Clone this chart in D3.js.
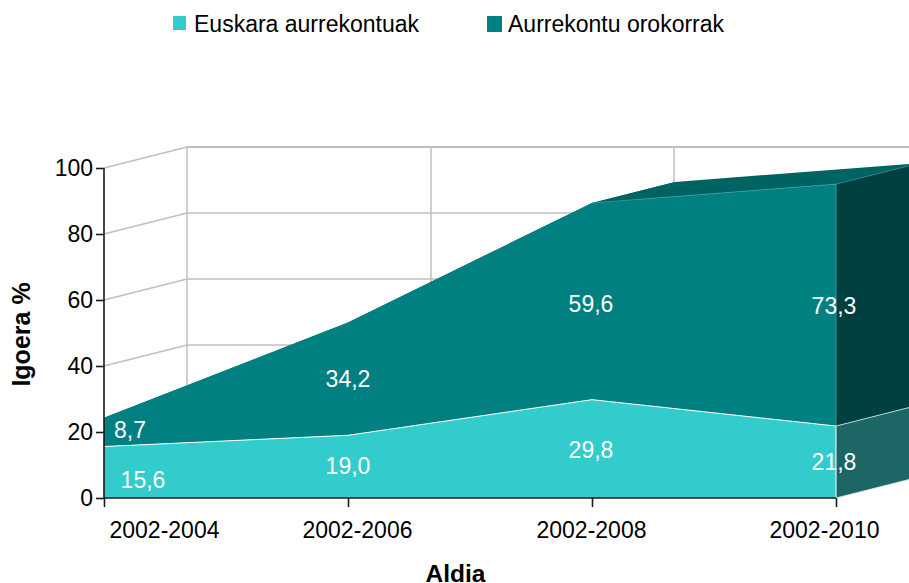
<!DOCTYPE html>
<html><head><meta charset="utf-8">
<script src="https://cdn.jsdelivr.net/npm/d3@7/dist/d3.min.js"></script>
<style>
html,body{margin:0;padding:0;background:#fff;overflow:hidden}
text{font-family:"Liberation Sans",Arial,sans-serif}
</style></head><body><svg id="c" width="909" height="583"></svg>
<script>
const categories=["2002-2004","2002-2006","2002-2008","2002-2010"];
const euskara=[15.6,19.0,29.8,21.8];
const orokorrak=[8.7,34.2,59.6,73.3];
const yTicks=[0,20,40,60,80,100];
const seriesNames=["Euskara aurrekontuak","Aurrekontu orokorrak"];
const C={light:"#33CCCC",dark:"#008080",top:"#006363",side:"#004040",lightSide:"#1C6666",grid:"#BFBFBF"};
const dx=83,dy=-21;
const svg=d3.select("#c");
const x=d3.scalePoint().domain(categories).range([104,836]);
const y=d3.scaleLinear().domain([0,100]).range([498,168]);
const stack1=euskara.slice();
const stack2=euskara.map((v,i)=>v+orokorrak[i]);
const X=i=>x(categories[i]);
const poly=(pts,fill,stroke)=>svg.append("polygon").attr("points",pts.map(p=>p.join(",")).join(" ")).attr("fill",fill).attr("stroke",stroke||"none").attr("stroke-width",stroke?1:0);
const ln=(a,b,s,w)=>svg.append("line").attr("x1",a[0]).attr("y1",a[1]).attr("x2",b[0]).attr("y2",b[1]).attr("stroke",s).attr("stroke-width",w);
// back wall grid
yTicks.forEach(t=>{
  if(t>0){
    ln([104,y(t)],[104+dx,y(t)+dy],C.grid,1.5);
    ln([104+dx,y(t)+dy],[909,y(t)+dy],C.grid,t===100?2:1.5);
  }
});
categories.forEach((c,i)=>ln([x(c)+dx-(i==2?1:0),y(100)+dy],[x(c)+dx-(i==2?1:0),y(0)+dy],C.grid,1.5));
// top face of upper stack
for(let i=0;i<3;i++){
  poly([[X(i),y(stack2[i])],[X(i+1),y(stack2[i+1])],[X(i+1)+dx,y(stack2[i+1])+dy],[X(i)+dx,y(stack2[i])+dy]],C.top);
}
// right faces
const L=3;
poly([[X(L),y(stack2[L])],[X(L)+dx,y(stack2[L])+dy],[X(L)+dx,y(stack1[L])+dy],[X(L),y(stack1[L])]],C.side);
poly([[X(L),y(stack1[L])],[X(L)+dx,y(stack1[L])+dy],[X(L)+dx,y(0)+dy],[X(L),y(0)]],C.lightSide);
// front faces
const area2=d3.area().x((d,i)=>X(i)).y0((d,i)=>y(stack1[i])).y1(d=>y(d));
svg.append("path").attr("d",area2(stack2)).attr("fill",C.dark);
const area1=d3.area().x((d,i)=>X(i)).y0(y(0)).y1(d=>y(d));
svg.append("path").attr("d",area1(stack1)).attr("fill",C.light);
// thin highlights
const line1=d3.line().x((d,i)=>X(i)).y(d=>y(d));
svg.append("path").attr("d",line1(stack1)).attr("fill","none").attr("stroke","#fff").attr("stroke-width",1);
ln([X(L),y(stack1[L])],[X(L),y(0)],"#fff",1);
ln([X(L),y(stack2[L])],[X(L),y(stack1[L])],"#3C9A9A",1);
ln([X(L),y(stack1[L])],[X(L)+dx,y(stack1[L])+dy],"#B5D5D5",1);
ln([X(L),y(0)],[X(L)+dx,y(0)+dy],"#D0E0E0",1);
ln([X(2),y(stack2[2])],[X(3),y(stack2[3])],"#3C9A9A",0.8);
ln([X(L),y(stack2[L])],[X(L)+dx,y(stack2[L])+dy],"#3C8080",0.8);
// axes
const yAxis=d3.axisLeft(y).tickValues(yTicks).tickSize(8).tickPadding(3);
const gy=svg.append("g").attr("transform","translate(104,0)").call(yAxis);
const xAxis=d3.axisBottom(x).tickSize(9).tickPadding(15);
const gx=svg.append("g").attr("transform","translate(0,498)").call(xAxis);
[gy,gx].forEach(g=>{
  g.select(".domain").attr("d",g===gy?"M0,498.5V168":"M104,0H836").attr("stroke","#1a1a1a").attr("stroke-width",1.6);
  g.selectAll(".tick line").attr("stroke","#1a1a1a").attr("stroke-width",1.6);
  g.selectAll("text").attr("font-size",23).attr("fill","#000").attr("font-family","'Liberation Sans',Arial,sans-serif");
});
const tickShift=[60,9,-1,-12];
gx.selectAll(".tick text").attr("dx",(d,i)=>tickShift[i]);
// data labels
const labelPos1=[143,348,591,834], labelDy1=[482,468,452,464];
const labelPos2=[130,348,591,834], labelDy2=[432,381,306,308];
const lab=(t,px,py)=>svg.append("text").attr("x",px).attr("y",py).attr("text-anchor","middle").attr("dominant-baseline","middle").attr("fill","#fff").attr("font-size",23).text(t);
const fmt=v=>v.toFixed(1).replace(".",",");
euskara.forEach((v,i)=>lab(fmt(v),labelPos1[i],labelDy1[i]));
orokorrak.forEach((v,i)=>lab(fmt(v),labelPos2[i],labelDy2[i]));
// titles
svg.append("text").attr("x",455.5).attr("y",581.5).attr("text-anchor","middle").attr("font-size",24.5).attr("font-weight","bold").text("Aldia");
svg.append("text").attr("transform","translate(30,334.5) rotate(-90)").attr("text-anchor","middle").attr("font-size",25).attr("font-weight","bold").text("Igoera %");
// legend
const lx=[172,487],tx=[194,508],cols=[C.light,C.dark];
seriesNames.forEach((n,i)=>{
  svg.append("rect").attr("x",lx[i]+(i?0:1)).attr("y",16).attr("width",i?15:13).attr("height",i?16:14).attr("fill",cols[i]);
  svg.append("text").attr("x",tx[i]).attr("y",25.5).attr("dominant-baseline","middle").attr("font-size",23).text(n);
});
</script></body></html>
